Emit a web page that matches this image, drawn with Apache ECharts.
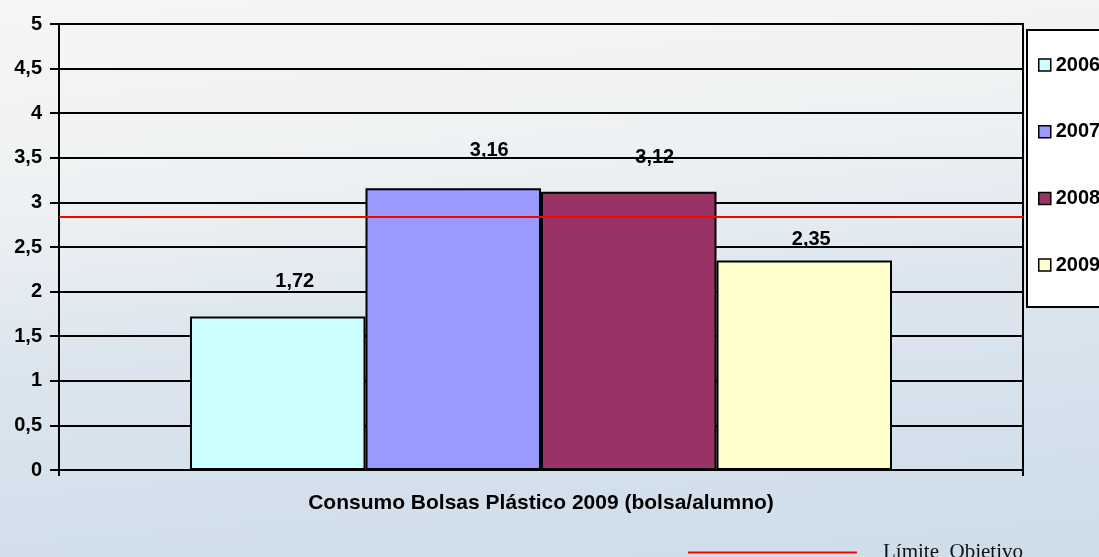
<!DOCTYPE html>
<html>
<head>
<meta charset="utf-8">
<script src="https://cdn.jsdelivr.net/npm/echarts@6/dist/echarts.min.js"></script>
<style>
  html, body { margin: 0; padding: 0; overflow: hidden; width: 1099px; height: 557px; }
  #main {
    width: 1140px; height: 580px;
    background: linear-gradient(175deg, #f6f6f4 0%, #eef1f3 30%, #dbe5ee 55%, #ccdcea 100%);
  }
</style>
</head>
<body>
<div id="main"></div>
<script>
var categories = [""];
var years = ["2006", "2007", "2008", "2009"];
var values = [1.72, 3.16, 3.12, 2.35];
var barColors = ["#ccffff", "#9999ff", "#993366", "#ffffcc"];
var targetName = "Límite  Objetivo";
var targetValue = 2.84;
var xAxisTitle = "Consumo Bolsas Plástico 2009 (bolsa/alumno)";

// label nudges so the numbers sit where the original puts them
var labelDistance = [25, 28, 24, 11];
var labelShift = [17, 36, 26, 7];

var boldFont = "Liberation Sans, Arial, sans-serif";

function comma(v) {
    return String(v).replace(".", ",");
}

// the page is wider than the window so the legend box runs off the edge like the original
var myChart = echarts.init(document.getElementById("main"));

var series = years.map(function (y, i) {
    return {
        name: y,
        type: "bar",
        data: [values[i]],
        barWidth: 175.5,
        barGap: 0,
        itemStyle: { color: barColors[i], borderColor: "#000", borderWidth: 2 },
        label: {
            show: true,
            position: "top",
            distance: labelDistance[i],
            offset: [labelShift[i], 0],
            formatter: function (p) { return comma(p.value); },
            color: "#000",
            fontFamily: boldFont,
            fontWeight: "bold",
            fontSize: 20
        }
    };
});

series.push({
    name: targetName,
    type: "line",
    data: [],
    color: "#ff0000",
    markLine: {
        silent: true,
        symbol: "none",
        label: { show: false },
        lineStyle: { color: "#ff0000", width: 2, type: "solid" },
        data: [{ yAxis: targetValue }]
    }
});

var option = {
    animation: false,
    grid: {
        left: 59, right: 1140 - 1023, top: 24, bottom: 580 - 470,
        show: true, borderColor: "#000", borderWidth: 2,
        backgroundColor: "transparent"
    },
    legend: [
        {
            data: years,
            orient: "vertical",
            left: 1027,
            top: 30,
            padding: [25, 40, 32, 11],
            itemGap: 46.7,
            itemWidth: 12,
            itemHeight: 12,
            icon: "rect",
            backgroundColor: "#fff",
            borderColor: "#000",
            borderWidth: 2,
            itemStyle: { borderColor: "#000", borderWidth: 1.5 },
            textStyle: {
                color: "#000",
                fontFamily: boldFont,
                fontWeight: "bold",
                fontSize: 20,
                lineHeight: 20
            }
        },
        {
            data: [targetName],
            left: 683,
            top: 529,
            icon: "rect",
            itemWidth: 169,
            itemHeight: 2,
            itemStyle: { color: "#ff0000" },
            textStyle: {
                color: "#111",
                fontFamily: "Liberation Serif, Times New Roman, serif",
                fontSize: 21,
                lineHeight: 21,
                padding: [0, 0, 16, 21]
            }
        }
    ],
    xAxis: {
        type: "category",
        data: categories,
        name: xAxisTitle,
        nameLocation: "middle",
        nameGap: 23,
        nameTextStyle: {
            color: "#000",
            fontFamily: boldFont,
            fontWeight: "bold",
            fontSize: 21,
            verticalAlign: "top"
        },
        axisLine: { lineStyle: { color: "#000", width: 2 } },
        axisTick: { show: true, length: 6, lineStyle: { color: "#000", width: 2 } },
        axisLabel: { show: false }
    },
    yAxis: {
        type: "value",
        min: 0,
        max: 5,
        interval: 0.5,
        axisLine: { show: true, lineStyle: { color: "#000", width: 2 } },
        axisTick: { show: true, length: 9, lineStyle: { color: "#000", width: 2 } },
        axisLabel: {
            formatter: comma,
            margin: 17,
            color: "#000",
            fontFamily: boldFont,
            fontWeight: "bold",
            fontSize: 20
        },
        splitLine: { show: true, lineStyle: { color: "#000", width: 2 } }
    },
    series: series
};

myChart.setOption(option);
</script>
</body>
</html>
